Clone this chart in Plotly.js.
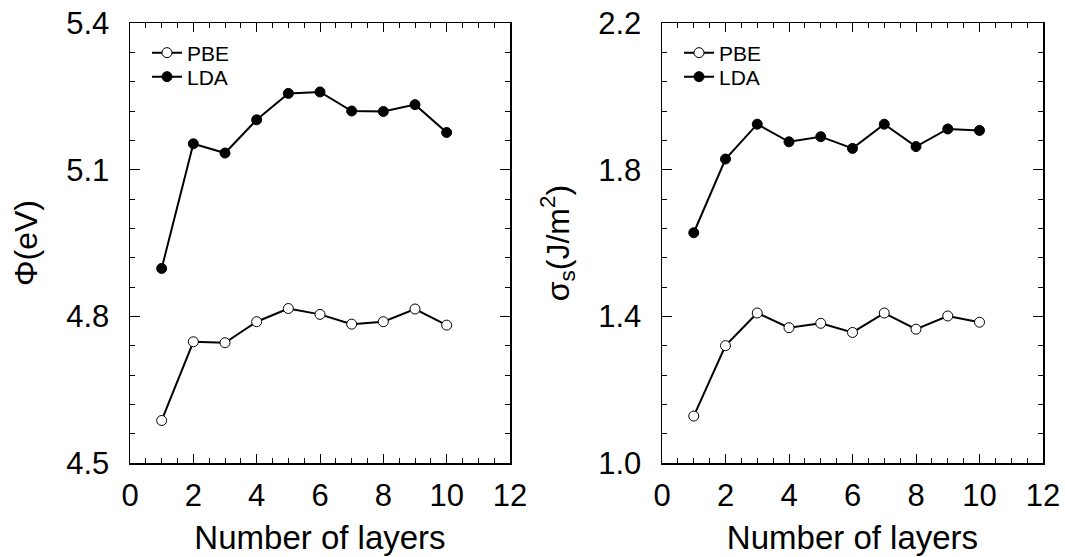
<!DOCTYPE html>
<html>
<head>
<meta charset="utf-8">
<script src="https://cdn.plot.ly/plotly-3.0.1.min.js"></script>
<style>html,body{margin:0;padding:0;background:#fff;}#chart{width:1065px;height:557px;}</style>
</head>
<body>
<div id="chart"></div>
<script>
// Data
const layers = [1, 2, 3, 4, 5, 6, 7, 8, 9, 10];
const workPBE = [4.587, 4.748, 4.746, 4.789, 4.816, 4.804, 4.784, 4.789, 4.815, 4.782];
const workLDA = [4.898, 5.153, 5.134, 5.202, 5.256, 5.259, 5.220, 5.219, 5.233, 5.176];
const surfPBE = [1.128, 1.320, 1.409, 1.369, 1.381, 1.356, 1.409, 1.365, 1.401, 1.384];
const surfLDA = [1.628, 1.829, 1.924, 1.876, 1.890, 1.858, 1.924, 1.863, 1.911, 1.907];
const seriesNames = ['PBE', 'LDA'];
const xTitle = 'Number of layers';
const yTitleLeft = 'Φ(eV)';
const yTitleRight = 'σ<sub>s</sub>(J/m<sup>2</sup>)';

const FONT = 'Liberation Sans, Arial, Helvetica, sans-serif';

function trace(x, y, name, filled, xa, ya, leg) {
  return {
    x: x, y: y, name: name, xaxis: xa, yaxis: ya, legend: leg,
    type: 'scatter', mode: 'lines+markers',
    line: {color: '#000', width: 2},
    marker: {size: 10, color: filled ? '#000' : '#fff', line: {color: '#000', width: 1}},
    cliponaxis: false
  };
}

const data = [
  trace(layers, workPBE, seriesNames[0], false, 'x', 'y', 'legend'),
  trace(layers, workLDA, seriesNames[1], true, 'x', 'y', 'legend2'),
  trace(layers, surfPBE, seriesNames[0], false, 'x2', 'y2', 'legend3'),
  trace(layers, surfLDA, seriesNames[1], true, 'x2', 'y2', 'legend4')
];

function xax(domain, anchor) {
  return {
    domain: domain, anchor: anchor, range: [0, 12], dtick: 2, tick0: 0,
    ticks: 'inside', ticklen: 9, tickwidth: 1, tickcolor: '#000',
    minor: {dtick: 0.5, ticks: 'inside', ticklen: 5, tickwidth: 1, tickcolor: '#000'},
    showline: true, linecolor: '#000', linewidth: 1.5, mirror: 'allticks',
    showgrid: false, zeroline: false,
    tickfont: {family: FONT, size: 31, color: '#000'},
    ticklabelstandoff: 4,
    title: {text: xTitle, font: {family: FONT, size: 33, color: '#000'}, standoff: 14},
    automargin: false
  };
}
function yax(domain, anchor, range, dtick, minor, title) {
  return {
    domain: domain, anchor: anchor, range: range, dtick: dtick, tick0: range[0],
    ticks: 'inside', ticklen: 10, tickwidth: 1, tickcolor: '#000',
    minor: {dtick: minor, tick0: range[0], ticks: 'inside', ticklen: 5, tickwidth: 1, tickcolor: '#000'},
    showline: true, linecolor: '#000', linewidth: 1.5, mirror: 'allticks',
    showgrid: false, zeroline: false, tickformat: '.1f',
    tickfont: {family: FONT, size: 31, color: '#000'},
    ticklabelstandoff: 13,
    title: {text: title, font: {family: FONT, size: 32, color: '#000'}, standoff: 19},
    automargin: false
  };
}

function leg(xpx, ypx) {
  return {x: xpx/1065, y: 1 - ypx/557, xanchor: 'left', yanchor: 'middle',
    bgcolor: 'rgba(0,0,0,0)', borderwidth: 0,
    font: {family: FONT, size: 21, color: '#000'}, itemwidth: 30, tracegroupgap: 0};
}

const yd = [1 - 463/557, 1 - 23/557];
const layout = {
  width: 1065, height: 557,
  margin: {l: 0, r: 0, t: 0, b: 0},
  paper_bgcolor: '#fff', plot_bgcolor: '#fff',
  showlegend: true,
  xaxis: xax([130/1065, 510/1065], 'y'),
  yaxis: yax(yd, 'x', [4.5, 5.4], 0.3, 0.06, yTitleLeft),
  xaxis2: xax([662/1065, 1043/1065], 'y2'),
  yaxis2: yax(yd, 'x2', [1.0, 2.2], 0.4, 0.08, yTitleRight),
  legend: leg(147, 53),
  legend2: leg(147, 77),
  legend3: leg(679, 53),
  legend4: leg(679, 77)
};

Plotly.newPlot('chart', data, layout, {displayModeBar: false, staticPlot: true});
</script>
</body>
</html>
